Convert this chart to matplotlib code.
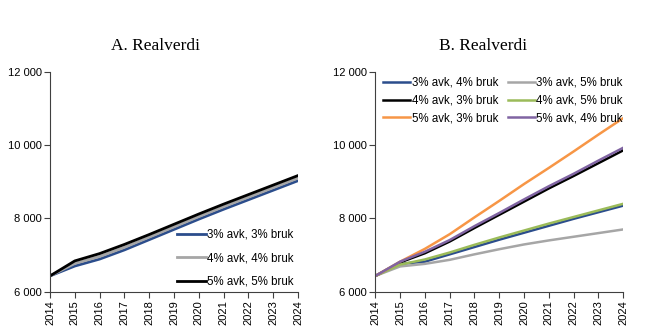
import matplotlib
matplotlib.use("Agg")
import matplotlib.pyplot as plt
from matplotlib.ticker import FuncFormatter

years = list(range(2014, 2025))

# A. Realverdi
a_3_3 = [6430, 6700, 6890, 7140, 7420, 7700, 7980, 8250, 8510, 8770, 9030]
a_4_4 = [6430, 6770, 6960, 7210, 7490, 7770, 8050, 8320, 8580, 8840, 9100]
a_5_5 = [6430, 6840, 7040, 7290, 7560, 7840, 8120, 8390, 8650, 8910, 9170]

# B. Realverdi
b_3_4 = [6430, 6760, 6820, 7020, 7220, 7420, 7610, 7800, 7990, 8170, 8350]
b_3_5 = [6430, 6690, 6760, 6870, 7020, 7160, 7290, 7400, 7500, 7600, 7700]
b_4_3 = [6430, 6800, 7050, 7370, 7740, 8100, 8460, 8820, 9160, 9510, 9860]
b_4_5 = [6430, 6740, 6880, 7070, 7280, 7480, 7670, 7860, 8040, 8220, 8400]
b_5_3 = [6430, 6820, 7170, 7570, 8030, 8480, 8940, 9380, 9830, 10290, 10740]
b_5_4 = [6430, 6820, 7090, 7410, 7790, 8150, 8520, 8880, 9220, 9580, 9930]

blue = "#2B4D8C"
gray = "#A6A6A6"
black = "#000000"
green = "#9BBB59"
orange = "#F79646"
purple = "#8064A2"

plt.rcParams["font.family"] = ["Liberation Sans", "DejaVu Sans"]
plt.rcParams["font.size"] = 8

fig = plt.figure(figsize=(6.72, 3.29), dpi=100)
ax1 = fig.add_axes([0.0744, 0.1134, 0.369, 0.668])
ax2 = fig.add_axes([0.5585, 0.1134, 0.369, 0.668])

fmt = FuncFormatter(lambda v, p: f"{int(v):,}".replace(",", " "))


def style(ax):
    ax.set_xlim(2014, 2024)
    ax.set_ylim(6000, 12000)
    ax.set_yticks([6000, 8000, 10000, 12000])
    ax.yaxis.set_major_formatter(fmt)
    ax.set_xticks(years)
    ax.set_xticklabels([str(y) for y in years], rotation=90)
    for s in ["top", "right"]:
        ax.spines[s].set_visible(False)
    for s in ["left", "bottom"]:
        ax.spines[s].set_color("#404040")
        ax.spines[s].set_linewidth(0.8)
    ax.tick_params(colors="#404040", labelcolor="black", length=4, width=0.8, pad=2)


ax1.plot(years, a_3_3, color=blue, lw=2, label="3% avk, 3% bruk")
ax1.plot(years, a_4_4, color=gray, lw=2, label="4% avk, 4% bruk")
ax1.plot(years, a_5_5, color=black, lw=2, label="5% avk, 5% bruk")
style(ax1)
ax1.legend(loc="lower right", frameon=False, handlelength=2.5, handletextpad=0.15,
           labelspacing=1.0, fontsize=8.3, bbox_to_anchor=(1.025, -0.03))

l34, = ax2.plot(years, b_3_4, color=blue, lw=1.8, label="3% avk, 4% bruk")
l35, = ax2.plot(years, b_3_5, color=gray, lw=1.8, label="3% avk, 5% bruk")
l43, = ax2.plot(years, b_4_3, color=black, lw=1.8, label="4% avk, 3% bruk")
l45, = ax2.plot(years, b_4_5, color=green, lw=1.8, label="4% avk, 5% bruk")
l53, = ax2.plot(years, b_5_3, color=orange, lw=1.8, label="5% avk, 3% bruk")
l54, = ax2.plot(years, b_5_4, color=purple, lw=1.8, label="5% avk, 4% bruk")
style(ax2)
ax2.legend(handles=[l34, l43, l53, l35, l45, l54], ncol=2, loc="upper left",
           frameon=False, handlelength=2.35, handletextpad=0.15, labelspacing=0.5,
           columnspacing=0.8, fontsize=8.3, bbox_to_anchor=(-0.01, 1.025))

fig.text(0.232, 0.848, "A. Realverdi", family="Liberation Serif", fontsize=12.5,
         ha="center", va="baseline")
fig.text(0.7195, 0.848, "B. Realverdi", family="Liberation Serif", fontsize=12.5,
         ha="center", va="baseline")

fig.savefig("out.png", dpi=100)
